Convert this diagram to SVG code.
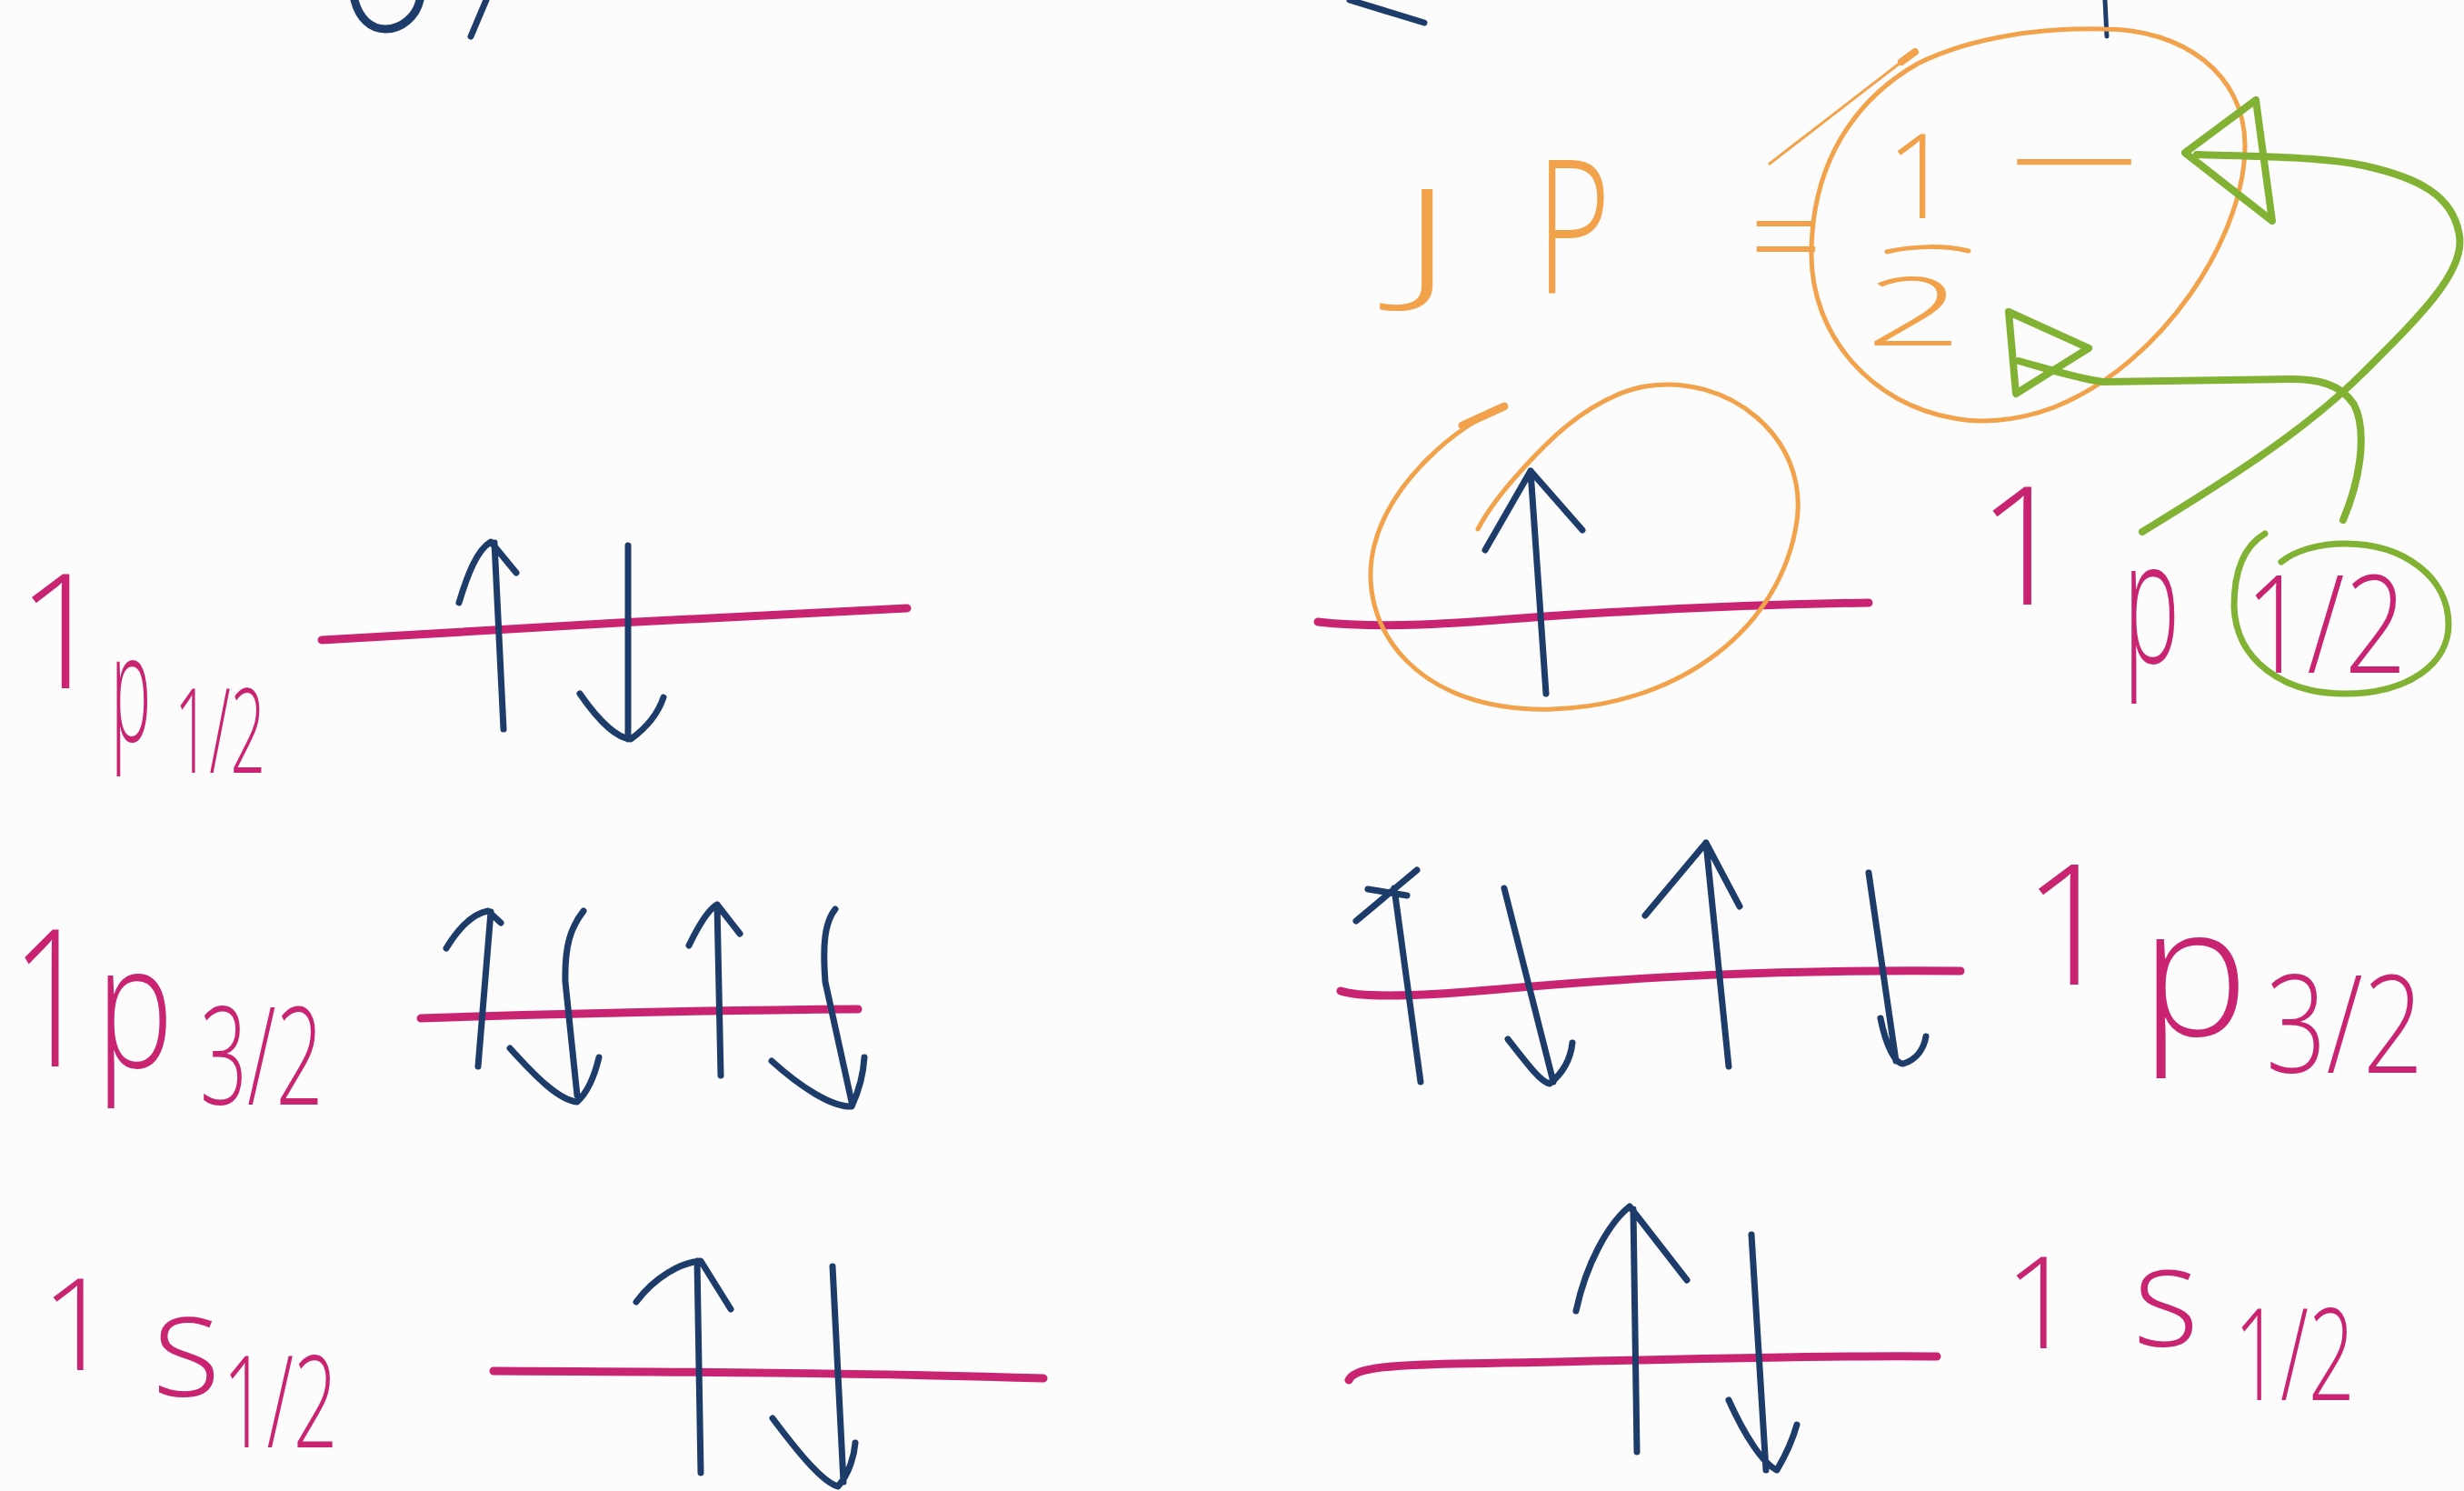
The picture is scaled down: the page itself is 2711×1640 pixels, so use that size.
<svg xmlns="http://www.w3.org/2000/svg" width="2711" height="1640" viewBox="0 0 2711 1640">
<style>
.nv{stroke:#1d3c6a;stroke-width:7;fill:none;stroke-linecap:round;stroke-linejoin:round}
.pl{stroke:#c92472;stroke-width:9;fill:none;stroke-linecap:round}
.or{stroke:#f2a24a;stroke-width:5;fill:none;stroke-linecap:round;stroke-linejoin:round}
.gr{stroke:#82b233;stroke-width:8;fill:none;stroke-linecap:round;stroke-linejoin:round}
.pt{fill:#c92472;font-family:"Open Sans","Liberation Sans",sans-serif;font-weight:300}
.ot{fill:#f2a24a;font-family:"Open Sans","Liberation Sans",sans-serif;font-weight:300}
</style>
<rect width="2711" height="1640" fill="#fcfcfc"/>

<g id="top-fragments" class="nv">
<path d="M390,0 C395,20 408,32 424,32 C442,32 458,18 462,0" stroke-width="9"/>
<path d="M535,0 L518,40"/>
<path d="M1485,0 L1567,25"/>
<path d="M2316,0 L2318,40" stroke-width="5"/>
</g>

<g id="levels">
<path id="level-left-1p12" class="pl" d="M354,704 C550,692 800,678 998,669"/>
<path id="level-left-1p32" class="pl" d="M463,1120 C650,1114 800,1111 944,1110"/>
<path id="level-left-1s12" class="pl" d="M543,1508 C750,1509 950,1510 1148,1516"/>
<path id="level-right-1p12" class="pl" d="M1450,684 C1520,692 1600,686 1700,678 C1850,668 1990,664 2056,663"/>
<path id="level-right-1p32" class="pl" d="M1475,1090 C1500,1098 1560,1096 1650,1088 C1800,1075 1950,1066 2157,1068"/>
<path id="level-right-1s12" class="pl" d="M1484,1518 C1490,1505 1520,1502 1600,1500 C1800,1497 2000,1490 2131,1492"/>
</g>

<g id="spins" class="nv">
<path d="M554,802 L544,597 M505,663 C515,630 525,605 540,596 L568,630"/>
<path d="M691,600 L691,813 M638,763 C660,795 680,812 694,813 C712,800 724,785 730,767"/>

<path d="M526,1173 L540,1003 M491,1043 C505,1020 520,1005 537,1002 L551,1015"/>
<path d="M642,1002 C628,1020 621,1040 622,1080 L635,1205 M561,1153 C590,1185 615,1210 635,1212 C648,1200 655,1180 659,1163"/>
<path d="M793,1183 L789,995 M758,1040 C770,1015 780,1000 789,995 L814,1027"/>
<path d="M919,1000 C907,1015 905,1040 908,1080 L937,1212 M849,1167 C880,1195 915,1218 937,1217 C945,1200 950,1180 951,1163"/>

<path d="M771,1620 L767,1387 M700,1432 C720,1405 750,1388 771,1387 L804,1440"/>
<path d="M916,1393 L928,1630 M850,1560 C880,1600 905,1630 922,1635 C935,1620 940,1600 941,1587"/>

<path d="M1701,763 L1684,518 M1634,605 L1684,518 L1741,583"/>

<path d="M1563,1190 L1534,977 M1492,1013 L1559,957 M1505,978 L1548,985"/>
<path d="M1655,977 L1709,1190 M1659,1143 C1680,1170 1695,1190 1705,1192 C1720,1180 1728,1165 1730,1147"/>
<path d="M1902,1173 L1877,927 M1810,1007 L1877,927 L1914,997"/>
<path d="M2056,960 L2086,1167 M2069,1120 C2075,1150 2085,1170 2094,1170 C2110,1165 2117,1152 2119,1140"/>

<path d="M1801,1597 L1797,1330 M1734,1442 C1745,1390 1770,1345 1793,1327 L1856,1408"/>
<path d="M1927,1358 L1943,1617 M1902,1540 C1920,1580 1940,1610 1955,1617 C1965,1600 1972,1585 1977,1567"/>
</g>

<g id="labels">
<g id="label-left-1p12" class="pt">
<text transform="translate(18,757)" font-size="175">1</text>
<text transform="translate(122,815) scale(0.45,1)" font-size="165">p</text>
<text transform="translate(192,850) scale(0.52,1)" font-size="130">1/2</text>
</g>
<g id="label-left-1p32" class="pt">
<text transform="translate(12,1173) scale(0.75,1)" font-size="210">1</text>
<text transform="translate(106,1174) scale(0.75,1)" font-size="190">p</text>
<text transform="translate(220,1215) scale(0.61,1)" font-size="150">3/2</text>
</g>
<g id="label-left-1s12" class="pt">
<text transform="translate(45,1507)" font-size="140">1</text>
<text transform="translate(168,1535)" font-size="160">s</text>
<text transform="translate(245,1592) scale(0.61,1)" font-size="140">1/2</text>
</g>
<g id="label-right-1p12" class="pt">
<text transform="translate(2175,665)" font-size="180">1</text>
<text transform="translate(2336,729) scale(0.55,1)" font-size="190">p</text>
<text transform="translate(2470,740) scale(0.8,1)" font-size="150">1/2</text>
</g>
<g id="label-right-1p32" class="pt">
<text transform="translate(2225,1083)" font-size="185">1</text>
<text transform="translate(2355,1139)" font-size="200">p</text>
<text transform="translate(2493,1180) scale(0.78,1)" font-size="150">3/2</text>
</g>
<g id="label-right-1s12" class="pt">
<text transform="translate(2205,1483)" font-size="140">1</text>
<text transform="translate(2347,1480)" font-size="155">s</text>
<text transform="translate(2458,1540) scale(0.64,1)" font-size="140">1/2</text>
</g>
</g>

<g id="jp-expression">
<g class="ot">
<text transform="translate(1540,315) scale(1.6,1)" font-size="150">J</text>
<text transform="translate(1690,323) scale(0.69,1)" font-size="204">P</text>
<text transform="translate(1925,309)" font-size="140">=</text>
<text transform="translate(2075,240)" font-size="130">1</text>
<text transform="translate(2052,380) scale(1.8,1)" font-size="105">2</text>
<text transform="translate(2205,231) scale(1.8,1)" font-size="150">−</text>
</g>
<path class="or" stroke-width="9" d="M2076,277 C2105,270 2140,270 2166,276"/>
</g>

<g id="orange-circles" class="or">
<path id="circle-spin" d="M1655,447 C1600,470 1530,530 1512,600 C1490,690 1560,785 1709,780 C1850,775 1960,690 1977,573 C1990,480 1900,410 1810,425 C1770,432 1730,460 1700,490 C1665,525 1640,555 1626,582"/>
<path d="M1655,447 L1609,468" stroke-width="9"/>
<path id="circle-jp" d="M2316,32 C2400,32 2470,80 2470,160 C2470,260 2380,400 2260,448 C2215,465 2175,465 2150,460 C2060,445 1993,370 1993,280 C1993,180 2040,110 2110,70 C2170,40 2250,30 2316,32 Z"/>
<path d="M1947,180 L2100,62" stroke-width="3"/>
<path d="M2092,68 L2107,57" stroke-width="8"/>
</g>

<g id="connectors" class="gr">
<path id="circle-half" stroke-width="7" d="M2492,587 C2470,600 2458,625 2458,667 C2460,725 2510,763 2580,763 C2650,763 2694,730 2694,687 C2694,635 2645,598 2580,598 C2550,598 2525,606 2510,618"/>
<path id="arrow-to-minus" d="M2357,585 C2430,540 2530,480 2600,410 C2660,350 2712,300 2706,260 C2700,215 2660,195 2600,182 C2550,172 2480,172 2417,170"/>
<path d="M2500,243 L2482,110 L2404,168 Z"/>
<path id="arrow-to-two" d="M2578,572 C2600,520 2603,470 2590,445 C2575,422 2550,417 2520,417 L2314,420 C2280,415 2250,405 2221,397"/>
<path d="M2210,343 L2298,383 L2218,433 Z"/>
</g>
</svg>
